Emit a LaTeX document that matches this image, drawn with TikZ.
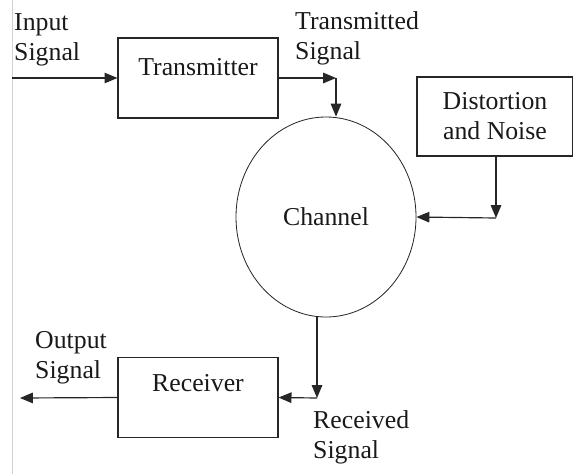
\documentclass[tikz,border=0pt]{standalone}
\usepackage{fontspec}
\setmainfont{Liberation Serif}
\usetikzlibrary{positioning,shapes.geometric,arrows.meta}

\begin{document}
\begin{tikzpicture}[
	x=0.03cm, y=-0.03cm,
	every node/.style={font=\fontsize{22}{25.5}\selectfont, text=black!90},
	block/.style={rectangle, draw=black!85, line width=1pt, minimum width=4.8cm, minimum height=2.4cm},
	roundnode/.style={ellipse, draw=black!85, line width=0.7pt, minimum width=5.4cm, minimum height=6cm, inner sep=0pt},
	textnode/.style={align=left, inner sep=0pt},
	line/.style={line width=1pt, draw=black!85},
	arrow/.style={line, -{Triangle[length=11pt,width=9pt]}},
	]
	\useasboundingbox (0,0) rectangle (573,474);
	\draw[gray!35, line width=0.8pt] (12,0) -- (12,474);
	%Nodes
	\node[block]          (tx)       at (198,78)  {};
	\node                 (txtext)   at (198,67)  {Transmitter};
	\node[roundnode]      (ch)       at (326,217) {Channel};
	\node[block, minimum width=4.68cm, minimum height=2.37cm] (dn) at (495,116.5) [align=center] {Distortion\\and Noise};
	\node[block]          (rx)       at (198,397.5) {};
	\node                 (rxtext)   at (198,383) {Receiver};
	
	\node[textnode, anchor=west] (inlbl)  at (14,40)  {Input\\Signal};
	\node[textnode, anchor=west] (txlbl)  at (295,38) {Transmitted\\Signal};
	\node[textnode, anchor=west] (outlbl) at (35,358) {Output\\Signal};
	\node[textnode, anchor=west] (rxlbl)  at (313,437) {Received\\Signal};
	
	\coordinate (in)  at (12,78);
	\coordinate (tc)  at (336,78);
	\coordinate (nc)  at (496,218);
	\coordinate (rc)  at (317,398);
	\coordinate (out) at (20,398);
	
	%Lines
	\draw[arrow] (in) -- (tx.west);
	\draw[arrow] (tx.east) -- (tc);
	\draw[arrow] (tc) -- (tc |- ch.north);
	\draw[arrow] (dn.south -| nc) -- (nc);
	\draw[arrow] (nc) -- (ch.east);
	\draw[arrow] (ch.south -| rc) -- (rc);
	\draw[arrow] (rc) -- (rx.east);
	\draw[arrow] (rx.west) -- (out);
\end{tikzpicture}
\end{document}
